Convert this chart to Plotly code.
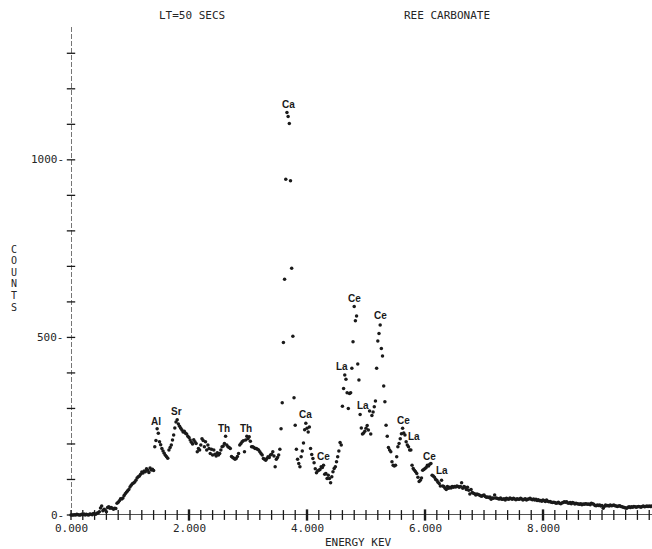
import numpy as np
import plotly.graph_objects as go

# EDS spectrum of a rare-earth carbonate, 20 eV per channel, live time 50 s
CHANNEL_KEV = 0.02

counts = [
    0, 0, 0, 1, 0, 2, 1, 0, 0, 2,
    1, 3, 0, 2, 1, 0, 3, 2, 1, 4,
    3, 2, 5, 6, 9, 20, 25, 12, 16, 14,
    9, 21, 23, 19, 21, 19, 16, 19, 18, 33,
    36, 40, 46, 45, 48, 55, 60, 64, 68, 72,
    79, 84, 88, 90, 93, 98, 104, 108, 110, 115,
    121, 118, 124, 122, 130, 126, 120, 132, 127, 129,
    125, 192, 210, 243, 230, 206, 198, 187, 180, 174,
    168, 164, 160, 183, 190, 197, 211, 225, 245, 262,
    268, 256, 250, 244, 239, 234, 236, 230, 228, 222,
    218, 211, 205, 200, 212, 206, 201, 178, 187, 183,
    197, 215, 210, 192, 206, 183, 197, 187, 173, 185,
    169, 183, 171, 166, 175, 169, 173, 183, 192, 194,
    201, 222, 197, 192, 190, 187, 165, 162, 160, 157,
    159, 165, 173, 197, 201, 206, 209, 178, 211, 222,
    215, 220, 208, 192, 192, 190, 187, 187, 185, 183,
    178, 173, 169, 159, 157, 154, 159, 164, 162, 169,
    171, 178, 166, 136, 157, 162, 169, 185, 243, 316,
    486, 664, 945, 1133, 1122, 1102, 941, 695, 503, 330,
    253, 185, 157, 145, 136, 164, 180, 203, 240, 258,
    244, 234, 248, 187, 170, 159, 147, 130, 119, 124,
    126, 128, 136, 134, 140, 115, 117, 103, 112, 103,
    91, 108, 122, 131, 136, 150, 164, 180, 204, 197,
    306, 356, 394, 382, 344, 300, 342, 344, 413, 488,
    587, 547, 560, 425, 380, 283, 245, 228, 231, 236,
    244, 252, 239, 293, 228, 280, 290, 305, 321, 413,
    490, 511, 535, 469, 448, 363, 319, 253, 222, 190,
    183, 178, 150, 140, 138, 140, 164, 192, 201, 215,
    229, 244, 231, 225, 206, 197, 192, 183, 183, 140,
    131, 126, 122, 117, 106, 94, 98, 104, 126, 128,
    131, 134, 140, 138, 143, 145, 112, 110, 106, 100,
    98, 92, 89, 82, 98, 82, 80, 75, 72, 80,
    75, 78, 76, 80, 78, 80, 79, 82, 80, 78,
    80, 91, 75, 80, 78, 72, 78, 70, 59, 72,
    63, 61, 60, 56, 59, 58, 56, 54, 53, 55,
    56, 52, 50, 51, 49, 51, 44, 48, 47, 56,
    48, 47, 46, 45, 48, 44, 44, 46, 42, 47,
    45, 44, 48, 46, 44, 47, 45, 43, 46, 44,
    44, 47, 45, 42, 44, 46, 42, 44, 45, 47,
    44, 43, 45, 42, 44, 41, 43, 40, 41, 39,
    42, 40, 38, 42, 39, 37, 38, 36, 35, 36,
    35, 33, 34, 36, 33, 32, 34, 35, 37, 36,
    37, 34, 33, 35, 32, 35, 34, 31, 33, 32,
    31, 30, 32, 29, 31, 30, 32, 31, 30, 31,
    29, 33, 32, 30, 27, 26, 28, 27, 28, 25,
    27, 19, 24, 28, 26, 27, 25, 28, 26, 27,
    28, 26, 25, 24, 25, 26, 24, 23, 22, 21,
    20, 19, 22, 23, 21, 23, 22, 24, 23, 22,
    23, 24, 23, 22, 24, 25, 23, 24, 25, 24,
    25, 24, 25,
]
energy_kev = [round(i * CHANNEL_KEV, 3) for i in range(len(counts))]

# element line labels
line_names = ["Al", "Sr", "Th", "Th", "Ca", "Ca", "Ce", "La", "Ce", "La",
              "Ce", "Ce", "La", "Ce", "La"]
line_kev = [1.44, 1.79, 2.60, 2.97, 3.68, 3.98, 4.28, 4.59, 4.80, 4.95,
            5.24, 5.63, 5.82, 6.08, 6.28]
line_counts = [264, 292, 244, 244, 1157, 284, 166, 419, 609, 309,
               562, 267, 222, 166, 126]

x_tick_vals = [0, 2, 4, 6, 8]
x_tick_text = ["0.000", "2.000", "4.000", "6.000", "8.000"]
y_tick_vals = [0, 500, 1000]
y_tick_text = ["0-", "500-", "1000-"]

W, H = 652, 549
ML, MR, MT, MB = 71, 0, 27, 34
X_MAX = 9.847
Y_MAX = 1374

INK = "#1a1a1a"
TEXT = "#262626"
MONO = "DejaVu Sans Mono"

fig = go.Figure()

# axis cross-ticks
minor_x = np.round(np.arange(0, 9.85, 0.2), 3)
fig.add_trace(go.Scatter(
    x=minor_x, y=np.zeros_like(minor_x), mode="markers",
    marker=dict(symbol="line-ns", size=7, line=dict(width=1.3, color=INK)),
    hoverinfo="skip", showlegend=False, cliponaxis=False))
fig.add_trace(go.Scatter(
    x=x_tick_vals[1:], y=[0] * 4, mode="markers",
    marker=dict(symbol="line-ns", size=8, line=dict(width=2.4, color=INK)),
    hoverinfo="skip", showlegend=False, cliponaxis=False))
minor_y = np.arange(0, 1301, 100)
fig.add_trace(go.Scatter(
    x=np.zeros_like(minor_y), y=minor_y, mode="markers",
    marker=dict(symbol="line-ew", size=6, line=dict(width=1.3, color=INK)),
    hoverinfo="skip", showlegend=False, cliponaxis=False))

# spectrum points
fig.add_trace(go.Scatter(
    x=energy_kev, y=counts, mode="markers",
    marker=dict(symbol="circle", size=3.5, color=INK, line=dict(width=0)),
    showlegend=False, cliponaxis=False))

shapes = [
    dict(type="line", xref="paper", yref="y", x0=0, x1=1, y0=0, y1=0,
         line=dict(color=INK, width=1.4)),
    dict(type="line", xref="x", yref="paper", x0=0, x1=0, y0=0, y1=1,
         line=dict(color=INK, width=1.2, dash="5px,2px")),
]

plot_h = H - MT - MB
plot_w = W - ML - MR


def py_to_paper(py):
    return (H - MB - py) / plot_h


def px_to_paper(px):
    return (px - ML) / plot_w


annotations = []
tick_font = dict(family=MONO, size=11, color=TEXT)
for v, t in zip(x_tick_vals, x_tick_text):
    annotations.append(dict(x=v, y=py_to_paper(528.5), xref="x", yref="paper",
                            text=t, showarrow=False, font=tick_font,
                            xanchor="center", yanchor="middle"))
for v, t in zip(y_tick_vals, y_tick_text):
    annotations.append(dict(x=px_to_paper(66), y=v, xref="paper", yref="y",
                            text=t, showarrow=False, font=tick_font,
                            xanchor="right", yanchor="middle"))

annotations.append(dict(x=px_to_paper(358), y=py_to_paper(542), xref="paper",
                        yref="paper", text="ENERGY KEV", showarrow=False,
                        font=tick_font, xanchor="center", yanchor="middle"))
annotations.append(dict(x=px_to_paper(192), y=py_to_paper(15), xref="paper",
                        yref="paper", text="LT=50 SECS", showarrow=False,
                        font=tick_font, xanchor="center", yanchor="middle"))
annotations.append(dict(x=px_to_paper(447), y=py_to_paper(15), xref="paper",
                        yref="paper", text="REE CARBONATE", showarrow=False,
                        font=tick_font, xanchor="center", yanchor="middle"))

# vertical axis title, one letter per line
for k, ch in enumerate("COUNTS"):
    annotations.append(dict(x=px_to_paper(14), y=py_to_paper(249 + 11.6 * k),
                            xref="paper", yref="paper", text=ch,
                            showarrow=False,
                            font=dict(family=MONO, size=10, color=TEXT),
                            xanchor="center", yanchor="middle"))

for name, xv, yv in zip(line_names, line_kev, line_counts):
    annotations.append(dict(x=xv, y=yv, xref="x", yref="y",
                            text="<b>" + name + "</b>", showarrow=False,
                            font=dict(family="Liberation Sans", size=10,
                                      color=INK),
                            xanchor="center", yanchor="middle"))

fig.update_layout(
    width=W, height=H, autosize=False,
    margin=dict(l=ML, r=MR, t=MT, b=MB, pad=0),
    paper_bgcolor="white", plot_bgcolor="white",
    xaxis=dict(range=[0, X_MAX], showgrid=False, zeroline=False,
               showline=False, showticklabels=False, ticks=""),
    yaxis=dict(range=[0, Y_MAX], showgrid=False, zeroline=False,
               showline=False, showticklabels=False, ticks=""),
    shapes=shapes, annotations=annotations,
)

fig.write_html("out.html")
